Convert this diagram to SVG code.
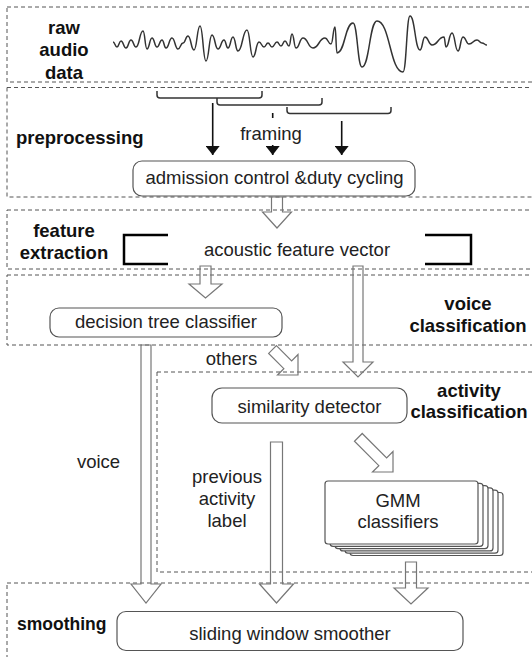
<svg xmlns="http://www.w3.org/2000/svg" width="532" height="657" viewBox="0 0 532 657">
  <style>
    .frame { fill: none; stroke: #555; stroke-width: 1; stroke-dasharray: 4 3; }
    .box { fill: #fff; stroke: #555; stroke-width: 1.2; }
    .hollow { fill: none; stroke: #777; stroke-width: 1.2; stroke-linejoin: miter; }
    .label { font-family: "Liberation Sans", Arial, sans-serif; font-size: 18.5px; font-weight: bold; fill: #111; text-anchor: middle; }
    .txt { font-family: "Liberation Sans", Arial, sans-serif; font-size: 18.5px; fill: #222; text-anchor: middle; }
    .brace { fill: none; stroke: #333; stroke-width: 1.5; }
    .solid { fill: none; stroke: #111; stroke-width: 1.6; }
    .bracket { fill: none; stroke: #000; stroke-width: 2.5; }
  </style>
  <defs>
    <marker id="tip" viewBox="0 0 9 14" refX="9" refY="7" markerWidth="9" markerHeight="14" markerUnits="userSpaceOnUse" orient="auto">
      <path d="M0,0 L9,7 L0,14 z" fill="#111"/>
    </marker>
  </defs>

  <rect width="532" height="657" fill="#fff"/>

  <!-- stage frames -->
  <g id="frames">
    <rect class="frame" x="7" y="7" width="540" height="75"/>
    <rect class="frame" x="7" y="87.5" width="540" height="109.5"/>
    <line class="frame" x1="157" y1="87.5" x2="400" y2="87.5" stroke-dashoffset="3.5"/>
    <rect class="frame" x="7" y="210" width="540" height="59"/>
    <rect class="frame" x="7" y="275" width="540" height="70"/>
    <rect class="frame" x="157" y="372" width="390" height="200"/>
    <rect class="frame" x="7" y="583" width="540" height="100"/>
  </g>

  <!-- stage labels -->
  <g id="stage-labels">
    <text class="label" x="64" y="34">raw</text>
    <text class="label" x="64" y="56">audio</text>
    <text class="label" x="64" y="79">data</text>
    <text class="label" x="16" y="144" text-anchor="start" style="text-anchor:start">preprocessing</text>
    <text class="label" x="64" y="237">feature</text>
    <text class="label" x="64" y="259">extraction</text>
    <text class="label" x="468" y="310">voice</text>
    <text class="label" x="468" y="332">classification</text>
    <text class="label" x="469" y="397">activity</text>
    <text class="label" x="469" y="418">classification</text>
    <text class="label" x="17" y="630" style="text-anchor:start;font-size:17.5px">smoothing</text>
  </g>

  <!-- raw audio waveform -->
  <g id="waveform">
    <path fill="none" stroke="#333" stroke-width="1.5" stroke-linejoin="round" d="M113,42 C115,42 115,47 117,47 C119,47 119,41 121,41 C123.5,41 123.5,48 126,48 C128.5,48 128.5,40 131,40 C133.5,40 133.5,47 136,47 C139.5,47 139.5,31 143,31 C145,31 145,49 147,49 C149.5,49 149.5,38 152,38 C154.5,38 154.5,47 157,47 C159.5,47 159.5,40 162,40 C164,40 164,48 166,48 C169,48 169,38 172,38 C175,38 175,49 178,49 C180.5,49 180.5,43 183,43 C185.5,43 185.5,36 188,36 C191,36 191,50 194,50 C197,50 197,26 200,26 C203,26 203,61 206,61 C209,61 209,35 212,35 C215,35 215,49 218,49 C221,49 221,40 224,40 C226,40 226,48 228,48 C230.5,48 230.5,37 233,37 C235.5,37 235.5,51 238,51 C242.5,51 242.5,30 247,30 C250,30 250,57 253,57 C256,57 256,42 259,42 C261.5,42 261.5,47 264,47 C266,47 266,43 268,43 C270,43 270,47 272,47 C274.5,47 274.5,42 277,42 C279,42 279,46 281,46 C283,46 283,41 285,41 C287,41 287,46 289,46 C290.5,46 290.5,34 292,34 C294,34 294,48 296,48 C299.5,48 299.5,38 303,38 C308,38 308,48 313,48 C319,48 319,38 325,38 C328,38 328,44 331,44 C333,44 333,27 335,27 C336,27 336,53 337,53 C345,53 345,23 353,23 C357.5,23 357.5,67 362,67 C369.5,67 369.5,21 377,21 C390,21 390,72 403,72 C406.5,72 406.5,16 410,16 C415,16 415,50 420,50 C422.5,50 422.5,37 425,37 C428.5,37 428.5,45 432,45 C438,45 438,37 444,37 C445,37 445,47 446,47 C449,47 449,33 452,33 C455,33 455,51 458,51 C460.5,51 460.5,37 463,37 C466,37 466,44 469,44 C473,44 473,40 477,40 C479.5,40 479.5,43 482,43 C484.5,43 484.5,45 487,45"/>
  </g>

  <!-- overlapping frame braces -->
  <g id="framing">
    <path class="brace" d="M157,91 V95 Q157,98 160,98 H259 Q262,98 262,95 V91"/>
    <path class="brace" d="M217,98 V102 Q217,105 220,105 H319 Q322,105 322,102 V98"/>
    <path class="brace" d="M287,107 V110.5 Q287,113.5 290,113.5 H388 Q391,113.5 391,110.5 V107"/>
    <text class="txt" x="271" y="140">framing</text>
  </g>

  <g id="admission">
    <rect class="box" x="133" y="161" width="282" height="35" rx="9"/>
    <text class="txt" x="274.5" y="184">admission control &amp;duty cycling</text>
  </g>

  <g id="feature-vector">
    <path class="bracket" d="M168,235 H124 V264 H168"/>
    <path class="bracket" d="M425,235 H471 V264 H425"/>
    <text class="txt" x="297" y="256">acoustic feature vector</text>
  </g>

  <g id="decision-tree">
    <rect class="box" x="50" y="308" width="232" height="29" rx="9"/>
    <text class="txt" x="166" y="328">decision tree classifier</text>
  </g>

  <g id="similarity">
    <rect class="box" x="212" y="388" width="195" height="35" rx="10"/>
    <text class="txt" x="309.5" y="413">similarity detector</text>
  </g>

  <g id="gmm">
    <rect class="box" x="350" y="492.5" width="153" height="63" rx="3"/>
    <rect class="box" x="345" y="490.2" width="153" height="63" rx="3"/>
    <rect class="box" x="340" y="487.9" width="153" height="63" rx="3"/>
    <rect class="box" x="335" y="485.6" width="153" height="63" rx="3"/>
    <rect class="box" x="330" y="483.3" width="153" height="63" rx="3"/>
    <rect class="box" x="325" y="481" width="153" height="63" rx="3"/>
    <text class="txt" x="398" y="507">GMM</text>
    <text class="txt" x="398" y="528">classifiers</text>
  </g>

  <g id="smoother">
    <rect class="box" x="117" y="611.5" width="346" height="39" rx="9"/>
    <text class="txt" x="290" y="640">sliding window smoother</text>
  </g>

  <!-- connectors -->
  <g id="connectors">
    <line class="solid" x1="212.7" y1="103" x2="212.7" y2="155" marker-end="url(#tip)"/>
    <line class="solid" x1="272.7" y1="113" x2="272.7" y2="118"/>
    <line class="solid" x1="272.7" y1="145" x2="272.7" y2="155" marker-end="url(#tip)"/>
    <line class="solid" x1="341.7" y1="121" x2="341.7" y2="155" marker-end="url(#tip)"/>

    <polygon class="hollow" points="271.5,197 282.5,197 282.5,212 291.5,212 277,228 262.5,212 271.5,212"/>
    <polygon class="hollow" points="200,266 211,266 211,284 222,284 205.5,298 189,284 200,284"/>
    <polygon class="hollow" points="353,266 363,266 363,362 373,362 358,377 343,362 353,362"/>
    <polygon class="hollow" points="141,345 151,345 151,584 161,584 146,603 131,584 141,584"/>
    <polygon class="hollow" points="270.5,442 282.5,442 282.5,584 293.5,584 276.5,603 259.5,584 270.5,584"/>
    <polygon class="hollow" points="405.5,562 416.5,562 416.5,588 428,588 411,604 394,588 405.5,588"/>
    <polygon class="hollow" transform="translate(298,375) rotate(45)" points="-36,-5.5 -14.5,-5.5 -14.5,-14.5 0,0 -14.5,14.5 -14.5,5.5 -36,5.5"/>
    <polygon class="hollow" transform="translate(393,472) rotate(45)" points="-49,-5.5 -14.5,-5.5 -14.5,-14.5 0,0 -14.5,14.5 -14.5,5.5 -49,5.5"/>

    <text class="txt" x="231.5" y="365">others</text>
    <text class="txt" x="98.5" y="468">voice</text>
    <text class="txt" x="227" y="483">previous</text>
    <text class="txt" x="227" y="505">activity</text>
    <text class="txt" x="227" y="527">label</text>
  </g>
</svg>
